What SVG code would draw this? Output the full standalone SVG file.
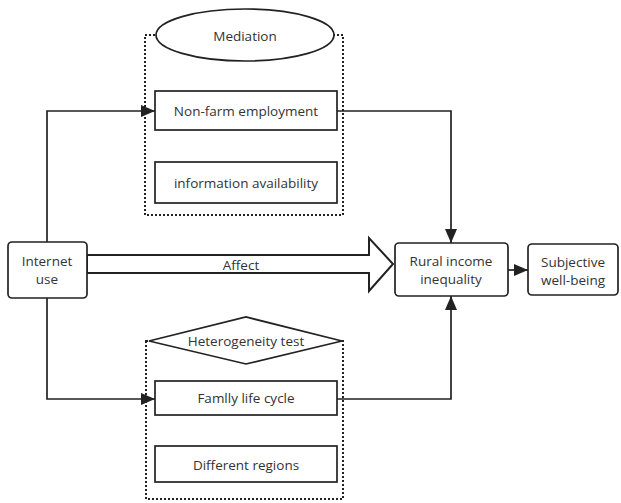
<svg xmlns="http://www.w3.org/2000/svg" width="621" height="503" viewBox="0 0 621 503">
<style>
.box{fill:#fff;stroke:#222;stroke-width:1.7}
.dot{fill:none;stroke:#222;stroke-width:2;stroke-dasharray:2 2}
.ln{fill:none;stroke:#222;stroke-width:1.7}
.arr{fill:#fff;stroke:#222;stroke-width:2}
text{font-family:"Open Sans","Noto Sans",sans-serif;font-size:13.5px;fill:#333;text-anchor:middle}
</style>
<defs>
<marker id="ah" viewBox="0 0 14 12" refX="14" refY="6" markerWidth="14" markerHeight="12" markerUnits="userSpaceOnUse" orient="auto">
<path d="M0,0 L14,6 L0,12 Z" fill="#222"/>
</marker>
</defs>
<rect width="621" height="503" fill="#fff"/>
<g id="mediation-group">
<rect class="dot" x="145" y="35" width="198" height="180"/>
</g>
<g id="heterogeneity-group">
<rect class="dot" x="146" y="341" width="197" height="158"/>
</g>
<g id="connectors">
<polyline class="ln" points="47,242 47,111 155,111" marker-end="url(#ah)"/>
<polyline class="ln" points="47,298 47,399 155,399" marker-end="url(#ah)"/>
<polyline class="ln" points="337,111 451,111 451,243" marker-end="url(#ah)"/>
<polyline class="ln" points="337,399 451,399 451,296" marker-end="url(#ah)"/>
<line class="ln" x1="508" y1="270" x2="528" y2="270" marker-end="url(#ah)"/>
<g id="affect">
<polygon class="arr" points="87,255 369,255 369,238 393,264 369,291 369,273 87,273"/>
<text x="241" y="270">Affect</text>
</g>
</g>
<g id="mediation">
<ellipse class="box" cx="245" cy="35" rx="89" ry="26"/>
<text x="245" y="41">Mediation</text>
</g>
<g id="non-farm">
<rect class="box" x="155" y="91" width="182" height="39"/>
<text x="246" y="116">Non-farm employment</text>
</g>
<g id="info">
<rect class="box" x="155" y="162" width="182" height="41"/>
<text x="246" y="188">information availability</text>
</g>
<g id="heterogeneity">
<polygon class="box" points="149,341 246,317 342,341 246,364"/>
<text x="246" y="346">Heterogeneity test</text>
</g>
<g id="family">
<rect class="box" x="155" y="381" width="182" height="34"/>
<text x="246" y="403">Famlly life cycle</text>
</g>
<g id="regions">
<rect class="box" x="155" y="446" width="182" height="36"/>
<text x="246" y="470">Different regions</text>
</g>
<g id="internet">
<rect class="box" x="8" y="242" width="79" height="56" rx="4"/>
<text x="47" y="266">Internet</text>
<text x="47" y="284">use</text>
</g>
<g id="rural">
<rect class="box" x="395" y="243" width="113" height="53" rx="4"/>
<text x="451" y="266">Rural income</text>
<text x="451" y="284">inequality</text>
</g>
<g id="subjective">
<rect class="box" x="528" y="244" width="90" height="51" rx="4"/>
<text x="573" y="267">Subjective</text>
<text x="573" y="285">well-being</text>
</g>
</svg>
